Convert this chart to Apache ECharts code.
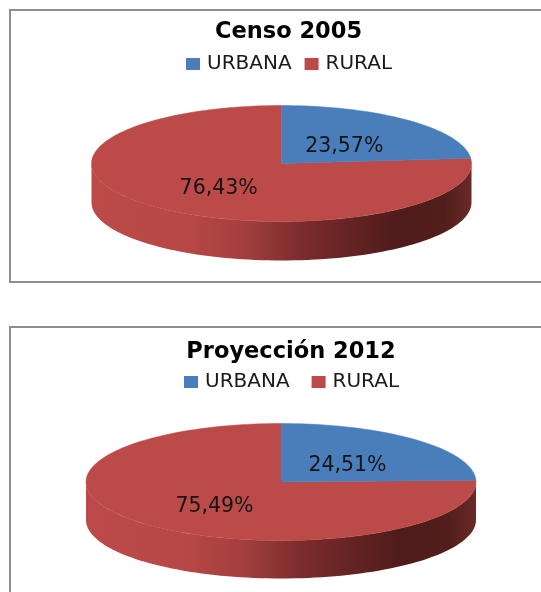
<!DOCTYPE html>
<html>
<head>
<meta charset="utf-8">
<style>html,body{margin:0;padding:0;background:#fff}#c{width:541px;height:592px}</style>
<script src="https://cdn.jsdelivr.net/npm/echarts@6/dist/echarts.min.js"></script>
</head>
<body>
<div id="c"></div>
<script>
const titles = ['Censo 2005', 'Proyección 2012'];
const categories = ['URBANA', 'RURAL'];
const urbana = [23.57, 24.51];
const rural = [76.43, 75.49];

const colors = {URBANA: '#4a7ebb', RURAL: '#bb4a48'};
const font = 'DejaVu Sans';
const pies = [
  {cx: 281.5, cy: 163.5, rx: 190, ry: 58, depth: 39},
  {cx: 281, cy: 482, rx: 195, ry: 58.5, depth: 38}
];

const wallFill = {
  type: 'linear', x: 0, y: 0, x2: 1, y2: 0,
  colorStops: [
    {offset: 0, color: '#bb4a48'}, {offset: 0.25, color: '#b84846'},
    {offset: 0.4, color: '#a33f3e'}, {offset: 0.55, color: '#7c2c2c'},
    {offset: 0.8, color: '#4f1c1b'}, {offset: 0.93, color: '#521e1c'},
    {offset: 1, color: '#6a2a27'}
  ]
};

function point(p, deg, dy) {
  const a = deg * Math.PI / 180;
  return [p.cx + p.rx * Math.sin(a), p.cy - p.ry * Math.cos(a) + (dy || 0)];
}
function sector(p, from, to) {
  const pts = [[p.cx, p.cy]];
  const n = Math.max(2, Math.ceil((to - from) / 2));
  for (let i = 0; i <= n; i++) pts.push(point(p, from + (to - from) * i / n));
  return pts;
}
function wall(p, from, to) {
  const a = Math.max(from, 90), b = Math.min(to, 270);
  if (b <= a) return null;
  const top = [], bottom = [];
  const n = Math.ceil((b - a) / 2);
  for (let i = 0; i <= n; i++) {
    const d = a + (b - a) * i / n;
    top.push(point(p, d));
    bottom.unshift(point(p, d, p.depth));
  }
  return top.concat(bottom);
}

function sliceSeries(pieIndex, name, startShare) {
  const p = pies[pieIndex];
  const value = (name === categories[0] ? urbana : rural)[pieIndex];
  return {
    type: 'custom', name: name, coordinateSystem: 'none', silent: true, animation: false,
    itemStyle: {color: colors[name]},
    data: [[value]],
    renderItem: function (params, api) {
      const v = api.value(0);
      const total = urbana[pieIndex] + rural[pieIndex];
      const from = startShare / total * 360;
      const to = from + v / total * 360;
      const mid = (from + to) / 2;
      const children = [];
      const w = wall(p, from, to);
      if (w) children.push({type: 'polygon', shape: {points: w}, style: {fill: wallFill}});
      children.push({type: 'polygon', shape: {points: sector(p, from, to)},
        style: {fill: colors[name], stroke: colors[name], lineWidth: 0.5}});
      const a = mid * Math.PI / 180;
      children.push({type: 'text', z2: 10, style: {
        text: v.toFixed(2).replace('.', ',') + '%',
        x: p.cx + p.rx * 0.49 * Math.sin(a),
        y: p.cy - p.ry * 0.49 * Math.cos(a) + 4,
        align: 'center', verticalAlign: 'middle',
        font: '20.5px "' + font + '"', fill: '#141414'
      }});
      return {type: 'group', children: children};
    }
  };
}

const series = [];
pies.forEach((p, i) => {
  series.push(sliceSeries(i, 'RURAL', urbana[i]));
  series.push(sliceSeries(i, 'URBANA', 0));
});

const legendBase = {
  data: categories, orient: 'horizontal', icon: 'rect', itemWidth: 14, itemHeight: 12,
  selectedMode: false, padding: 0,
  textStyle: {fontFamily: font, fontSize: 20, color: '#1a1a1a', padding: [0, 0, 0, 2]}
};

const option = {
  backgroundColor: '#fff',
  animation: false,
  title: [
    {text: titles[0], left: 288.5, top: 32.5, textAlign: 'center', textVerticalAlign: 'middle', padding: 0,
     textStyle: {fontFamily: font, fontWeight: 'bold', fontSize: 22.5, color: '#000'}},
    {text: titles[1], left: 291, top: 352, textAlign: 'center', textVerticalAlign: 'middle', padding: 0,
     textStyle: {fontFamily: font, fontWeight: 'bold', fontSize: 22.5, color: '#000'}}
  ],
  legend: [
    Object.assign({}, legendBase, {left: 186, top: 54, itemGap: 13}),
    Object.assign({}, legendBase, {left: 184, top: 372, itemGap: 22})
  ],
  graphic: [
    {type: 'polyline', silent: true, shape: {points: [[541, 10], [10, 10], [10, 282], [541, 282]]},
     style: {stroke: '#8e8e8e', lineWidth: 2, fill: null}},
    {type: 'polyline', silent: true, shape: {points: [[541, 327], [10, 327], [10, 592]]},
     style: {stroke: '#8e8e8e', lineWidth: 2, fill: null}}
  ],
  series: series
};
echarts.init(document.getElementById('c'), null, {renderer: 'canvas'}).setOption(option);
</script>
</body>
</html>
